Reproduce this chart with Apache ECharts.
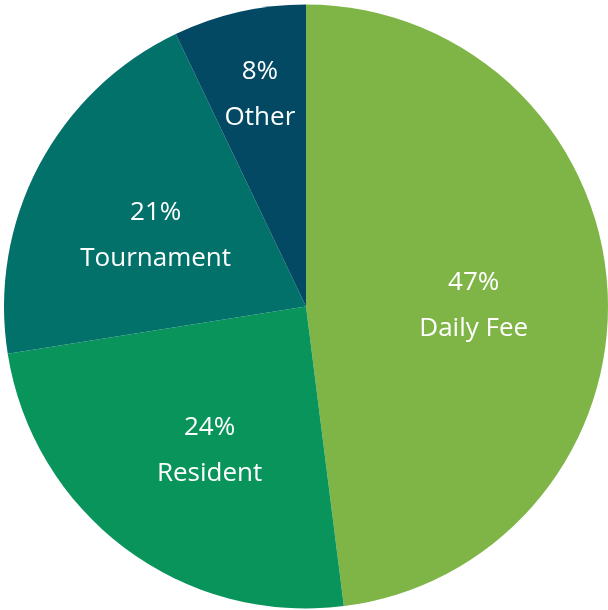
<!DOCTYPE html>
<html>
<head>
<meta charset="utf-8">
<script src="https://cdn.jsdelivr.net/npm/echarts@6/dist/echarts.min.js"></script>
<style>html,body{margin:0;padding:0;background:#fff;}#c{width:608px;height:610px;}</style>
</head>
<body>
<div id="c"></div>
<script>
const categories = ['Daily Fee', 'Resident', 'Tournament', 'Other'];
const values = [48.0, 24.5, 20.4, 7.1];
const pctLabels = ['47%', '24%', '21%', '8%'];
const colors = ['#7fb547', '#09945b', '#02716a', '#034963'];
const labelOffsets = [[14, 9], [-4, 21], [-14, 1], [-12, -62]];

const chart = echarts.init(document.getElementById('c'), null, {renderer: 'canvas'});
chart.setOption({
  animation: false,
  series: [{
    type: 'pie',
    center: [306, 306.5],
    radius: [0, 302],
    startAngle: 90,
    clockwise: true,
    avoidLabelOverlap: false,
    labelLine: {show: false},
    itemStyle: {borderWidth: 0},
    emphasis: {disabled: true},
    data: categories.map((c, i) => ({
      name: c,
      value: values[i],
      itemStyle: {color: colors[i]},
      label: {offset: labelOffsets[i]}
    })),
    label: {
      show: true,
      position: 'inside',
      color: '#ffffff',
      fontFamily: 'Open Sans',
      fontSize: 26,
      lineHeight: 46,
      align: 'center',
      formatter: p => pctLabels[p.dataIndex] + '\n' + p.name
    }
  }]
});
</script>
</body>
</html>
